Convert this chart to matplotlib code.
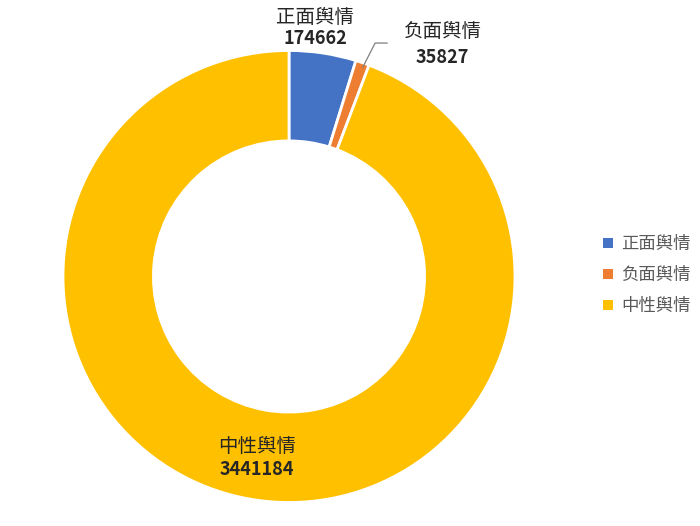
import matplotlib.pyplot as plt
from matplotlib.patches import Patch

plt.rcParams['font.family'] = ['Noto Sans CJK SC', 'DejaVu Sans']

labels = ['正面舆情', '负面舆情', '中性舆情']
values = [174662, 35827, 3441184]
colors = ['#4472C4', '#ED7D31', '#FFC000']

fig = plt.figure(figsize=(7, 5.26), dpi=100)
ax = fig.add_axes([63 / 700, 23.5 / 526, 452 / 700, 452 / 526])

ax.pie(values, colors=colors, startangle=90, counterclock=False,
       radius=1, wedgeprops=dict(width=0.4, edgecolor='white', linewidth=2))
ax.set_xlim(-1, 1)
ax.set_ylim(-1, 1)
ax.set_aspect('equal')
ax.axis('off')

txt = '#262626'
# data labels
ax.text(0.115, 1.148, labels[0], ha='center', va='center', fontsize=14, color=txt)
ax.text(0.115, 1.055, str(values[0]), ha='center', va='center', fontsize=13,
        fontweight='bold', color=txt)

ax.text(0.68, 1.082, labels[1], ha='center', va='center', fontsize=14, color=txt)
ax.text(0.68, 0.971, str(values[1]), ha='center', va='center', fontsize=13,
        fontweight='bold', color=txt)
ax.plot([0.434, 0.381, 0.327], [1.033, 1.033, 0.927], color='#7f7f7f', lw=0.9,
        clip_on=False)

ax.text(-0.142, -0.75, labels[2], ha='center', va='center', fontsize=14, color=txt)
ax.text(-0.142, -0.852, str(values[2]), ha='center', va='center', fontsize=13,
        fontweight='bold', color=txt)

handles = [Patch(facecolor=c, edgecolor='none') for c in colors]
fig.legend(handles, labels, loc='center left', bbox_to_anchor=(603 / 700, 1 - 275 / 526),
           frameon=False, fontsize=12.5, handlelength=0.55, handleheight=0.55,
           handletextpad=0.5, labelspacing=0.75, borderpad=0, borderaxespad=0,
           labelcolor='#595959')

fig.savefig('out.png', dpi=100)
